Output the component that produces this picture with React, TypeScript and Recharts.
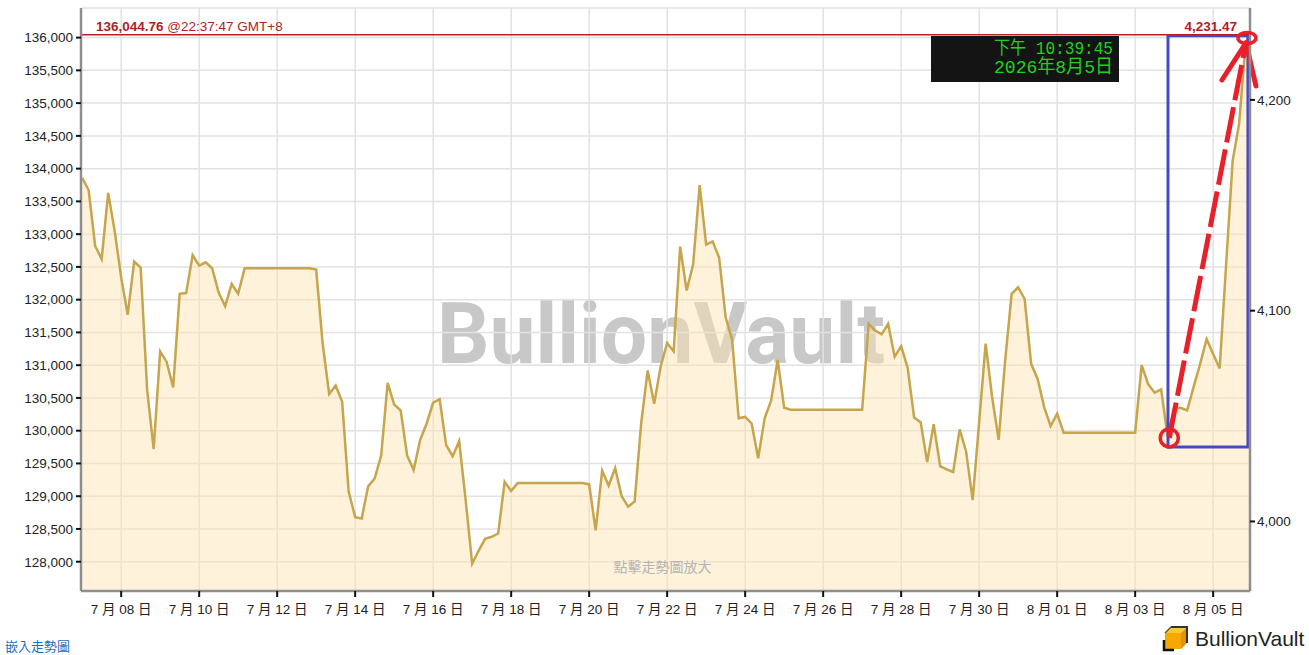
import React from 'react';
import {
  ComposedChart,
  Area,
  XAxis,
  YAxis,
  CartesianGrid,
  ReferenceLine,
  ReferenceArea,
  ReferenceDot,
} from 'recharts';

const FONT = '"Liberation Sans", Arial, "Noto Sans CJK TC", sans-serif';

// first sample is 7月07日 00:00, one sample every 4 hours (x = day of July)
const START_DAY = 7;
const SAMPLES_PER_DAY = 6;

// 黃金價格 (人民幣/公斤) — one row per day
const PRICES = [
  133860, 133670, 132820, 132620, 133630, 133050, // 7/07
  132340, 131770, 132580, 132490, 130620, 129720, // 7/08
  131210, 131050, 130660, 132090, 132100, 132680, // 7/09
  132520, 132570, 132480, 132110, 131900, 132240, // 7/10
  132090, 132480, 132480, 132480, 132480, 132480, // 7/11
  132480, 132480, 132480, 132480, 132480, 132480, // 7/12
  132460, 131330, 130560, 130690, 130440, 129070, // 7/13
  128680, 128660, 129150, 129270, 129620, 130730, // 7/14
  130400, 130310, 129620, 129400, 129860, 130110, // 7/15
  130430, 130480, 129780, 129610, 129840, 128940, // 7/16
  127970, 128170, 128350, 128380, 128430, 129220, // 7/17
  129080, 129200, 129200, 129200, 129200, 129200, // 7/18
  129200, 129200, 129200, 129200, 129200, 129200, // 7/19
  129180, 128480, 129390, 129160, 129430, 129000, // 7/20
  128840, 128920, 130110, 130920, 130410, 130980, // 7/21
  131340, 131210, 132810, 132140, 132540, 133750, // 7/22
  132840, 132890, 132640, 131730, 131380, 130190, // 7/23
  130210, 130110, 129580, 130190, 130460, 131080, // 7/24
  130350, 130320, 130320, 130320, 130320, 130320, // 7/25
  130320, 130320, 130320, 130320, 130320, 130320, // 7/26
  130320, 131630, 131530, 131470, 131630, 131130, // 7/27
  131290, 130960, 130200, 130130, 129520, 130100, // 7/28
  129460, 129410, 129370, 130020, 129680, 128940, // 7/29
  130130, 131330, 130510, 129860, 131070, 132090, // 7/30
  132190, 132010, 131020, 130790, 130360, 130070, // 7/31
  130260, 129970, 129970, 129970, 129970, 129970, // 8/01
  129970, 129970, 129970, 129970, 129970, 129970, // 8/02
  129970, 131000, 130710, 130580, 130630, 129910, // 8/03
  130340, 130350, 130310, 130670, 131020, 131400, // 8/04
  131170, 130950, 132540, 134120, 134690, 135920, // 8/05
];

// latest quote 8月05日 22:37:47
const LAST_TIME = 36 + (22 + 37 / 60 + 47 / 3600) / 24;
const LAST_PRICE = 136044.76;
const LAST_PRICE_TEXT = '136,044.76';
const LAST_TIME_TEXT = '@22:37:47 GMT+8';
const LAST_USD_TEXT = '4,231.47';

const X_DOMAIN = [6.97, 36.945];
const X_TICKS = [8, 10, 12, 14, 16, 18, 20, 22, 24, 26, 28, 30, 32, 34, 36];
const X_TICK_LABELS = [
  '7 月 08 日', '7 月 10 日', '7 月 12 日', '7 月 14 日', '7 月 16 日',
  '7 月 18 日', '7 月 20 日', '7 月 22 日', '7 月 24 日', '7 月 26 日',
  '7 月 28 日', '7 月 30 日', '8 月 01 日', '8 月 03 日', '8 月 05 日',
];

const LEFT_DOMAIN = [127553, 136452];
const LEFT_TICKS = [
  128000, 128500, 129000, 129500, 130000, 130500, 131000, 131500,
  132000, 132500, 133000, 133500, 134000, 134500, 135000, 135500, 136000,
];
const RIGHT_DOMAIN = [3967, 4243.6];
const RIGHT_TICKS = [4000, 4100, 4200];

// hand drawn markup on top of the chart, in chart units (day, price)
const BOX = { x1: 34.842, x2: 36.892, y1: 129751, y2: 136030 };
const ARROW_FROM = { x: 34.875, y: 129889 };
const ARROW_TIP = { x: 36.842, y: 135918 };
const ARROW_ARM_LEFT = { x: 36.226, y: 135353 };
const ARROW_ARM_RIGHT = { x: 37.098, y: 135261 };
const END_MARK = { x: 36.867, y: 135994 };

const data = PRICES.map((price, i) => ({ t: START_DAY + i / SAMPLES_PER_DAY, price })).concat([
  { t: LAST_TIME, price: LAST_PRICE },
]);

const fmt = (v: number) => v.toLocaleString('en-US');

const PriceLabel = (props: any) => {
  const { x, y, width } = props.viewBox;
  return (
    <g fontFamily={FONT} fontSize={13.5} fill="#b01e1e">
      <text x={x + 15} y={y - 4}>
        <tspan fontWeight="bold">{LAST_PRICE_TEXT}</tspan> {LAST_TIME_TEXT}
      </text>
      <text x={x + width - 13} y={y - 4} textAnchor="end" fontWeight="bold">
        {LAST_USD_TEXT}
      </text>
    </g>
  );
};

const EllipseMark = (props: any) => (
  <ellipse cx={props.cx} cy={props.cy} rx={9} ry={5.5} fill="none" stroke="#e8202a" strokeWidth={3.5} />
);

const RED = '#e8202a';

export default function App() {
  return (
    <div
      style={{
        position: 'absolute',
        left: 0,
        top: 0,
        width: 1309,
        height: 655,
        overflow: 'hidden',
        background: '#fff',
        fontFamily: FONT,
      }}
    >
      {/* watermark sits under grid and area */}
      <svg width={1309} height={655} style={{ position: 'absolute', left: 0, top: 0 }}>
        <text
          x={437}
          y={363}
          fontFamily="Roboto, 'Liberation Sans', sans-serif"
          fontWeight={700}
          fontSize={86}
          fill="#c8c8c8"
          textLength={448}
          lengthAdjust="spacingAndGlyphs"
        >
          BullionVault
        </text>
      </svg>

      <div style={{ position: 'absolute', left: 0, top: 0 }}>
        <ComposedChart width={1309} height={640} data={data} margin={{ top: 8, right: 0, bottom: 0, left: 0 }}>
          <CartesianGrid yAxisId="left" stroke="#e2e2e2" strokeWidth={1.5} />
          <XAxis
            dataKey="t"
            type="number"
            domain={X_DOMAIN}
            ticks={X_TICKS}
            allowDataOverflow
            tickFormatter={(v: number) => X_TICK_LABELS[X_TICKS.indexOf(v)]}
            height={49}
            tickSize={6}
            tickMargin={7}
            tick={{ fontSize: 13.5, fill: '#222', fontFamily: FONT }}
            axisLine={{ stroke: '#8e8e8e', strokeWidth: 2.5 }}
            tickLine={{ stroke: '#111', strokeWidth: 2 }}
          />
          <YAxis
            yAxisId="left"
            type="number"
            domain={LEFT_DOMAIN}
            ticks={LEFT_TICKS}
            allowDataOverflow
            width={81}
            tickSize={5}
            tickMargin={3}
            tickFormatter={fmt}
            tick={{ fontSize: 13.5, fill: '#222', fontFamily: FONT }}
            axisLine={{ stroke: '#8e8e8e', strokeWidth: 2.5 }}
            tickLine={{ stroke: '#111', strokeWidth: 2 }}
          />
          <YAxis
            yAxisId="right"
            orientation="right"
            type="number"
            domain={RIGHT_DOMAIN}
            ticks={RIGHT_TICKS}
            allowDataOverflow
            width={59}
            tickSize={5}
            tickMargin={2}
            tickFormatter={fmt}
            tick={{ fontSize: 13.5, fill: '#222', fontFamily: FONT }}
            axisLine={{ stroke: '#8e8e8e', strokeWidth: 2.5 }}
            tickLine={{ stroke: '#111', strokeWidth: 2 }}
          />
          <Area
            yAxisId="left"
            type="linear"
            dataKey="price"
            stroke="#c6a54c"
            strokeWidth={2.5}
            fill="#fce2b0"
            fillOpacity={0.45}
            dot={false}
            activeDot={false}
            isAnimationActive={false}
          />
          <ReferenceLine yAxisId="left" y={LAST_PRICE} stroke="#b8201f" strokeWidth={1.5} label={<PriceLabel />} />
          <ReferenceArea
            yAxisId="left"
            x1={BOX.x1}
            x2={BOX.x2}
            y1={BOX.y1}
            y2={BOX.y2}
            fill="none"
            fillOpacity={0}
            stroke="#4848c8"
            strokeWidth={3}
            ifOverflow="visible"
          />
          <ReferenceLine
            yAxisId="left"
            segment={[ARROW_FROM, ARROW_TIP]}
            stroke={RED}
            strokeWidth={5}
            strokeDasharray="36 7"
            ifOverflow="visible"
          />
          <ReferenceLine
            yAxisId="left"
            segment={[ARROW_TIP, ARROW_ARM_LEFT]}
            stroke={RED}
            strokeWidth={5}
            strokeLinecap="round"
            ifOverflow="visible"
          />
          <ReferenceLine
            yAxisId="left"
            segment={[ARROW_TIP, ARROW_ARM_RIGHT]}
            stroke={RED}
            strokeWidth={5}
            strokeLinecap="round"
            ifOverflow="visible"
          />
          <ReferenceDot
            yAxisId="left"
            x={ARROW_FROM.x}
            y={ARROW_FROM.y}
            r={9}
            fill="none"
            stroke={RED}
            strokeWidth={3.5}
            ifOverflow="visible"
          />
          <ReferenceDot yAxisId="left" x={END_MARK.x} y={END_MARK.y} r={9} ifOverflow="visible" shape={EllipseMark} />
        </ComposedChart>
      </div>

      {/* overlay: clock, hint, embed link, logo */}
      <svg width={1309} height={655} style={{ position: 'absolute', left: 0, top: 0, pointerEvents: 'none' }}>
        <rect x={931} y={36} width={188} height={46} fill="#141414" />
        <text
          x={994}
          y={54}
          fontFamily="'Liberation Mono', 'Noto Sans CJK TC', monospace"
          fontSize={18}
          fill="#1ed21e"
          textLength={119}
          lengthAdjust="spacingAndGlyphs"
        >
          下午 10:39:45
        </text>
        <text
          x={994}
          y={73}
          fontFamily="'Liberation Mono', 'Noto Sans CJK TC', monospace"
          fontSize={19}
          fill="#1ed21e"
          textLength={119}
          lengthAdjust="spacingAndGlyphs"
        >
          2026年8月5日
        </text>

        <text x={662.5} y={572} textAnchor="middle" fontFamily={FONT} fontSize={14} fill="#b4b4b4">
          點擊走勢圖放大
        </text>

        <text x={5} y={651} fontFamily={FONT} fontSize={13} fill="#1a6dc4">
          嵌入走勢圖
        </text>

        <g>
          <polygon points="1165,633 1171,627 1187,627 1181,633" fill="#ffc933" />
          <polygon points="1181,633 1187,627 1187,643 1181,649" fill="#e39200" />
          <rect x={1165} y={633} width={16} height={16} fill="#f5a800" />
          <polyline points="1171,627 1187,627 1187,643" fill="none" stroke="#333" strokeWidth={2} />
          <polyline points="1164,640 1164,650 1174,650" fill="none" stroke="#111" strokeWidth={2.5} />
          <line x1={1165} y1={633} x2={1171} y2={627} stroke="#555" strokeWidth={1.5} />
        </g>
        <text x={1195} y={646} fontFamily={FONT} fontSize={21} fill="#222">
          BullionVault
        </text>
      </svg>
    </div>
  );
}
